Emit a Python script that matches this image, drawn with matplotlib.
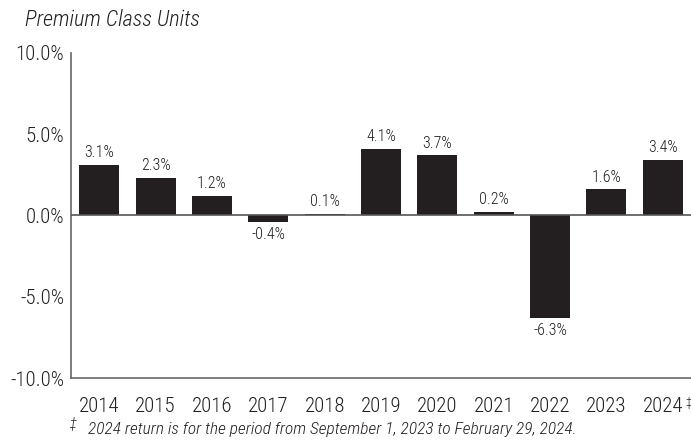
import matplotlib
matplotlib.use("Agg")
import matplotlib.pyplot as plt

years = ["2014", "2015", "2016", "2017", "2018", "2019", "2020", "2021", "2022", "2023", "2024"]
returns = [3.1, 2.3, 1.2, -0.4, 0.1, 4.1, 3.7, 0.2, -6.3, 1.6, 3.4]
yticks = [-10, -5, 0, 5, 10]

plt.rcParams['font.family'] = ['Roboto Condensed', 'Liberation Sans', 'DejaVu Sans']
plt.rcParams['font.weight'] = 'light'

fig = plt.figure(figsize=(6.91, 4.40), dpi=100)
ax = fig.add_axes([71 / 691, 1 - 378 / 440, 620 / 691, 325 / 440])

x = list(range(len(years)))
ax.bar(x, returns, width=0.71, color="#231f20", zorder=2)
ax.axhline(0, color="#555555", lw=1.2, zorder=3)

for xi, v in zip(x, returns):
    if v >= 0:
        ax.text(xi, v + 0.3, f"{v:.1f}%", ha="center", va="bottom", fontsize=11.5, color="#231f20")
    else:
        ax.text(xi, v - 0.3, f"{v:.1f}%", ha="center", va="top", fontsize=11.5, color="#231f20")

ax.set_xlim(-0.5, len(years) - 0.5)
ax.set_ylim(-10, 10)
ax.set_yticks(yticks)
ax.set_yticklabels([f"{t:.1f}%" for t in yticks], fontsize=15)
ax.set_xticks(x)
ax.set_xticklabels(years, fontsize=15)
ax.tick_params(axis="both", length=0, pad=5, colors="#231f20")
ax.tick_params(axis="x", pad=14)

# small double dagger after the last year label
ax.annotate("\u2021", xy=(x[-1], 0), xycoords=("data", "axes fraction"),
            xytext=(16, -13), textcoords="offset points", ha="left", va="top",
            fontsize=9, color="#231f20")

for s in ["top", "right"]:
    ax.spines[s].set_visible(False)
for s in ["left", "bottom"]:
    ax.spines[s].set_color("#666666")
    ax.spines[s].set_linewidth(1.2)

fig.text(25 / 691, 1 - 20 / 440, "Premium Class Units", fontsize=16, style="italic",
         color="#231f20", va="center")
fig.text(69 / 691, 1 - 424 / 440, "\u2021", fontsize=10, style="italic", color="#231f20", va="center")
fig.text(88 / 691, 1 - 429 / 440,
         "2024 return is for the period from September 1, 2023 to February 29, 2024.",
         fontsize=12.5, style="italic", color="#231f20", va="center")

fig.savefig("out.png", dpi=100)
